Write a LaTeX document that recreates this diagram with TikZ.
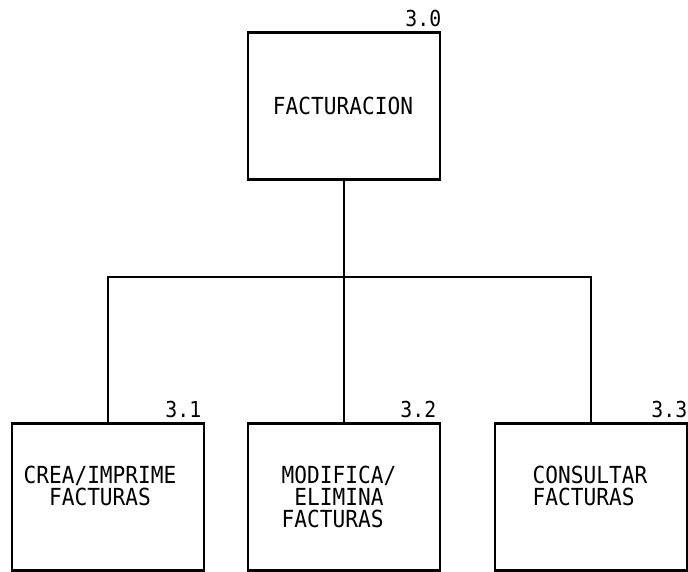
\documentclass[tikz,border=0pt]{standalone}
\usepackage{fontspec}
\newfontfamily\plotfont[FakeStretch=0.9]{DejaVu Sans Mono}
\usetikzlibrary{positioning}

\begin{document}
\begin{tikzpicture}[x=1pt, y=-1pt,
  proc/.style={draw, line width=2.8pt, minimum width=192pt, minimum height=147pt, inner sep=0pt},
  lbl/.style={font=\plotfont\fontsize{23.5}{22}\selectfont, inner sep=0pt},
  num/.style={font=\plotfont\fontsize{22}{22}\selectfont, inner sep=0pt, anchor=south east},
  link/.style={line width=1.3pt}]
  \useasboundingbox (0,0) rectangle (688,572);

  % top level
  \node[proc] (fact) at (344,106) {};
  \node[lbl, xshift=-1pt] (factxt) at (fact.center) {FACTURACION};
  \node[num] (n30) at ([yshift=4pt]fact.north east) {3.0};

  % sub processes
  \node[proc] (crea) at (108,497) {};
  \node[proc] (modi) at (344,497) {};
  \node[proc] (cons) at (591,497) {};

  \node[lbl, align=center, anchor=north, below=44pt of crea.north, xshift=-8pt] (creatxt) {CREA/IMPRIME\\FACTURAS};
  \node[lbl, align=left, anchor=north, below=44pt of modi.north, xshift=-5pt] (moditxt) {MODIFICA/\\\hphantom{E}ELIMINA\\FACTURAS};
  \node[lbl, align=left, anchor=north, below=44pt of cons.north, xshift=-1pt] (constxt) {CONSULTAR\\FACTURAS};

  \node[num] (n31) at ([xshift=-4pt, yshift=4pt]crea.north east) {3.1};
  \node[num] (n32) at ([xshift=-5pt, yshift=4pt]modi.north east) {3.2};
  \node[num] (n33) at ([xshift=-1pt, yshift=4pt]cons.north east) {3.3};

  % connectors
  \coordinate (bar) at (344,277);
  \draw[link] (fact.south) -- (modi.north);
  \draw[link] (crea.north) |- (bar) -| (cons.north);
\end{tikzpicture}
\end{document}
